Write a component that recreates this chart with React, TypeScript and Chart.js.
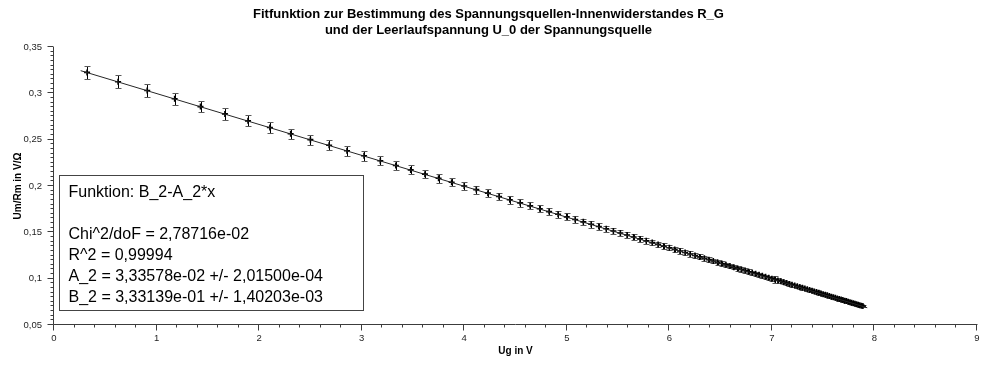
import React, { useEffect, useRef } from 'react';
import { Chart, registerables } from 'chart.js';

Chart.register(...registerables);

const titleLines = [
  'Fitfunktion zur Bestimmung des Spannungsquellen-Innenwiderstandes R_G',
  'und der Leerlaufspannung U_0 der Spannungsquelle',
];
const xAxisTitle = 'Ug in V';
const yAxisTitle = 'Um/Rm in V/Ω';
const xTickLabels = ['0', '1', '2', '3', '4', '5', '6', '7', '8', '9'];
const yTickLabels = ['0,05', '0,1', '0,15', '0,2', '0,25', '0,3', '0,35'];

// Measured points: Ug (V)
const ugValues = [
  0.3226, 0.625, 0.9091, 1.1765, 1.4286, 1.6667, 1.8919, 2.1053, 2.3077, 2.5,
  2.6829, 2.8571, 3.0233, 3.1818, 3.3333, 3.4783, 3.617, 3.75, 3.8776, 4.0,
  4.1176, 4.2308, 4.3396, 4.4444, 4.5455, 4.6429, 4.7368, 4.8276, 4.9153, 5.0,
  5.082, 5.1613, 5.2381, 5.3125, 5.3846, 5.4545, 5.5224, 5.5882, 5.6522, 5.7143,
  5.7746, 5.8333, 5.8904, 5.9459, 6.0, 6.0526, 6.1039, 6.1538, 6.2025, 6.25,
  6.2963, 6.3415, 6.3855, 6.4286, 6.4706, 6.5116, 6.5517, 6.5909, 6.6292, 6.6667,
  6.7033, 6.7391, 6.7742, 6.8085, 6.8421, 6.875, 6.9072, 6.9388, 6.9697, 7.0,
  7.0297, 7.0588, 7.0874, 7.1154, 7.1429, 7.1698, 7.1963, 7.2222, 7.2477, 7.2727,
  7.2973, 7.3214, 7.3451, 7.3684, 7.3913, 7.4138, 7.4359, 7.4576, 7.479, 7.5,
  7.5207, 7.541, 7.561, 7.5806, 7.6, 7.619, 7.6378, 7.6563, 7.6744, 7.6923,
  7.7099, 7.7273, 7.7444, 7.7612, 7.7778, 7.7941, 7.8102, 7.8261, 7.8417, 7.8571,
  7.8723, 7.8873,
];
// Measured points: Um/Rm (V/Ω)
const imValues = [
  0.3226, 0.3125, 0.303, 0.2941, 0.2857, 0.2778, 0.2703, 0.2632, 0.2564, 0.25,
  0.2439, 0.2381, 0.2326, 0.2273, 0.2222, 0.2174, 0.2128, 0.2083, 0.2041, 0.2,
  0.1961, 0.1923, 0.1887, 0.1852, 0.1818, 0.1786, 0.1754, 0.1724, 0.1695, 0.1667,
  0.1639, 0.1613, 0.1587, 0.1563, 0.1538, 0.1515, 0.1493, 0.1471, 0.1449, 0.1429,
  0.1408, 0.1389, 0.137, 0.1351, 0.1333, 0.1316, 0.1299, 0.1282, 0.1266, 0.125,
  0.1235, 0.122, 0.1205, 0.119, 0.1176, 0.1163, 0.1149, 0.1136, 0.1124, 0.1111,
  0.1099, 0.1087, 0.1075, 0.1064, 0.1053, 0.1042, 0.1031, 0.102, 0.101, 0.1,
  0.099, 0.098, 0.0971, 0.0962, 0.0952, 0.0943, 0.0935, 0.0926, 0.0917, 0.0909,
  0.0901, 0.0893, 0.0885, 0.0877, 0.087, 0.0862, 0.0855, 0.0847, 0.084, 0.0833,
  0.0826, 0.082, 0.0813, 0.0806, 0.08, 0.0794, 0.0787, 0.0781, 0.0775, 0.0769,
  0.0763, 0.0758, 0.0752, 0.0746, 0.0741, 0.0735, 0.073, 0.0725, 0.0719, 0.0714,
  0.0709, 0.0704,
];
// Uncertainty of Um/Rm (V/Ω)
const imErrors = [
  0.0071, 0.0069, 0.0067, 0.0065, 0.0063, 0.0061, 0.0059, 0.0058, 0.0056, 0.0055,
  0.0054, 0.0052, 0.0051, 0.005, 0.0049, 0.0048, 0.0047, 0.0046, 0.0045, 0.0044,
  0.0043, 0.0042, 0.0042, 0.0041, 0.004, 0.0039, 0.0039, 0.0038, 0.0037, 0.0037,
  0.0036, 0.0035, 0.0035, 0.0034, 0.0034, 0.0033, 0.0033, 0.0032, 0.0032, 0.0031,
  0.0031, 0.0031, 0.003, 0.003, 0.0029, 0.0029, 0.0029, 0.0028, 0.0028, 0.0028,
  0.0027, 0.0027, 0.0027, 0.0026, 0.0026, 0.0026, 0.0025, 0.0025, 0.0025, 0.0024,
  0.0024, 0.0024, 0.0024, 0.0023, 0.0023, 0.0023, 0.0023, 0.0022, 0.0022, 0.0022,
  0.004, 0.0022, 0.0021, 0.0021, 0.0021, 0.0021, 0.0021, 0.002, 0.002, 0.002,
  0.002, 0.002, 0.0019, 0.0019, 0.0019, 0.0019, 0.0019, 0.0019, 0.0018, 0.0018,
  0.0018, 0.0018, 0.0018, 0.0018, 0.0018, 0.0017, 0.0017, 0.0017, 0.0017, 0.0017,
  0.0017, 0.0017, 0.0017, 0.0016, 0.0016, 0.0016, 0.0016, 0.0016, 0.0016, 0.0016,
  0.0016, 0.0015,
];

// Fit line B_2 - A_2*x, end points
const fitX = [0.26, 7.93];
const fitY = [0.32447, 0.06861];

const fitInfoLines = [
  'Funktion: B_2-A_2*x',
  '',
  'Chi^2/doF = 2,78716e-02',
  'R^2 = 0,99994',
  'A_2 = 3,33578e-02 +/- 2,01500e-04',
  'B_2 = 3,33139e-01 +/- 1,40203e-03',
];

const X_MIN = 0, X_MAX = 9, X_MINOR = 0.2;
const Y_MIN = 0.05, Y_MAX = 0.35, Y_STEP = 0.05, Y_MINOR = 0.005;

const decorPlugin = {
  id: 'decor',
  beforeDatasetsDraw(chart: any) {
    const { ctx, scales } = chart;
    const xs = scales.x, ys = scales.y;
    ctx.save();
    ctx.lineWidth = 1;
    for (let i = 0; i < ugValues.length; i++) {
      const px = Math.round(xs.getPixelForValue(ugValues[i])) + 0.5;
      const top = Math.round(ys.getPixelForValue(imValues[i] + imErrors[i])) + 0.5;
      const bot = Math.round(ys.getPixelForValue(imValues[i] - imErrors[i])) + 0.5;
      ctx.strokeStyle = '#000000';
      ctx.beginPath();
      ctx.moveTo(px, top);
      ctx.lineTo(px, bot);
      ctx.stroke();
      ctx.strokeStyle = '#5a5a5a';
      ctx.beginPath();
      ctx.moveTo(px - 3, top);
      ctx.lineTo(px + 3, top);
      ctx.moveTo(px - 3, bot);
      ctx.lineTo(px + 3, bot);
      ctx.stroke();
    }
    ctx.restore();
  },
  afterDraw(chart: any) {
    const { ctx, chartArea, scales } = chart;
    const xs = scales.x, ys = scales.y;
    const left = Math.round(chartArea.left) - 0.5;
    const bottom = Math.round(chartArea.bottom) - 0.5;
    ctx.save();
    ctx.strokeStyle = '#3c3c3c';
    ctx.lineWidth = 1;
    ctx.beginPath();
    ctx.moveTo(left, Math.round(chartArea.top));
    ctx.lineTo(left, bottom);
    ctx.lineTo(Math.round(chartArea.right) + 0.5, bottom);
    ctx.stroke();
    // x ticks
    ctx.beginPath();
    const nx = Math.round((X_MAX - X_MIN) / X_MINOR);
    for (let k = 0; k <= nx; k++) {
      const v = X_MIN + k * X_MINOR;
      const px = Math.round(xs.getPixelForValue(v)) - 0.5;
      const major = k % 5 === 0;
      ctx.moveTo(px, bottom);
      ctx.lineTo(px, bottom + (major ? 6 : 3));
    }
    // y ticks
    const ny = Math.round((Y_MAX - Y_MIN) / Y_MINOR);
    for (let k = 0; k <= ny; k++) {
      const v = Y_MIN + k * Y_MINOR;
      const py = Math.round(ys.getPixelForValue(v)) - 0.5;
      const major = k % 10 === 0;
      ctx.moveTo(left, py);
      ctx.lineTo(left - (major ? 6 : 3), py);
    }
    ctx.stroke();

    // fit info box
    const bx = Math.round(chartArea.left) + 5.5;
    const by = Math.round(chartArea.top) + 128.5;
    const bw = 304, bh = 135;
    ctx.fillStyle = '#ffffff';
    ctx.fillRect(bx, by, bw, bh);
    ctx.strokeStyle = '#444444';
    ctx.strokeRect(bx, by, bw, bh);
    ctx.fillStyle = '#000000';
    ctx.font = '16px "Liberation Sans", Arial, sans-serif';
    ctx.textAlign = 'left';
    ctx.textBaseline = 'middle';
    fitInfoLines.forEach((line, i) => {
      if (line) ctx.fillText(line, bx + 9, by + 17 + i * 21);
    });
    ctx.restore();
  },
};

export default function App() {
  const canvasRef = useRef<HTMLCanvasElement | null>(null);

  useEffect(() => {
    document.body.style.margin = '0';
    const canvas = canvasRef.current;
    if (!canvas) return;
    const chart = new Chart(canvas, {
      type: 'scatter',
      data: {
        datasets: [
          {
            label: 'Fit',
            data: fitX.map((x, i) => ({ x, y: fitY[i] })),
            showLine: true,
            borderColor: '#262626',
            borderWidth: 1,
            pointRadius: 0,
            fill: false,
          },
          {
            label: 'Messwerte',
            data: ugValues.map((x, i) => ({ x, y: imValues[i] })),
            pointStyle: 'cross',
            pointRadius: 3,
            borderColor: '#000000',
            backgroundColor: '#000000',
            borderWidth: 1.6,
            showLine: false,
          },
        ],
      },
      options: {
        responsive: false,
        maintainAspectRatio: false,
        animation: false,
        devicePixelRatio: 1,
        layout: { padding: { left: 0, right: 23, top: 0, bottom: 0 } },
        plugins: {
          legend: { display: false },
          tooltip: { enabled: false },
          title: {
            display: true,
            text: titleLines,
            color: '#000000',
            font: { family: '"Liberation Sans", Arial, sans-serif', size: 13, weight: 'bold', lineHeight: 16 / 13 },
            padding: { top: 6.5, bottom: 8.5 },
          },
        },
        scales: {
          x: {
            type: 'linear',
            min: X_MIN,
            max: X_MAX,
            grid: { display: false, drawTicks: false },
            border: { display: false },
            ticks: {
              stepSize: 1,
              padding: 8,
              color: '#1e1e1e',
              font: { family: '"Liberation Sans", Arial, sans-serif', size: 9.5 },
              maxRotation: 0,
              callback: (v: any) => xTickLabels[Math.round(Number(v))] ?? '',
            },
            title: {
              display: true,
              text: xAxisTitle,
              color: '#000000',
              font: { family: '"Liberation Sans", Arial, sans-serif', size: 10, weight: 'bold', lineHeight: 1.2 },
              padding: { top: 0, bottom: 10 },
            },
            afterFit: (s: any) => { s.height = 42; },
          },
          y: {
            type: 'linear',
            min: Y_MIN,
            max: Y_MAX,
            grid: { display: false, drawTicks: false },
            border: { display: false },
            ticks: {
              stepSize: Y_STEP,
              padding: 12,
              color: '#1e1e1e',
              font: { family: '"Liberation Sans", Arial, sans-serif', size: 9.5 },
              callback: (v: any) => yTickLabels[Math.round((Number(v) - Y_MIN) / Y_STEP)] ?? '',
            },
            title: {
              display: true,
              text: yAxisTitle,
              color: '#000000',
              font: { family: '"Liberation Sans", Arial, sans-serif', size: 10, weight: 'bold', lineHeight: 1.2 },
              padding: { top: 12, bottom: 0 },
            },
            afterFit: (s: any) => { s.width = 54; },
          },
        },
      },
      plugins: [decorPlugin],
    });
    return () => chart.destroy();
  }, []);

  return (
    <div style={{ width: 1000, height: 367, position: 'relative', background: '#ffffff' }}>
      <canvas ref={canvasRef} width={1000} height={367} style={{ display: 'block' }} />
    </div>
  );
}
